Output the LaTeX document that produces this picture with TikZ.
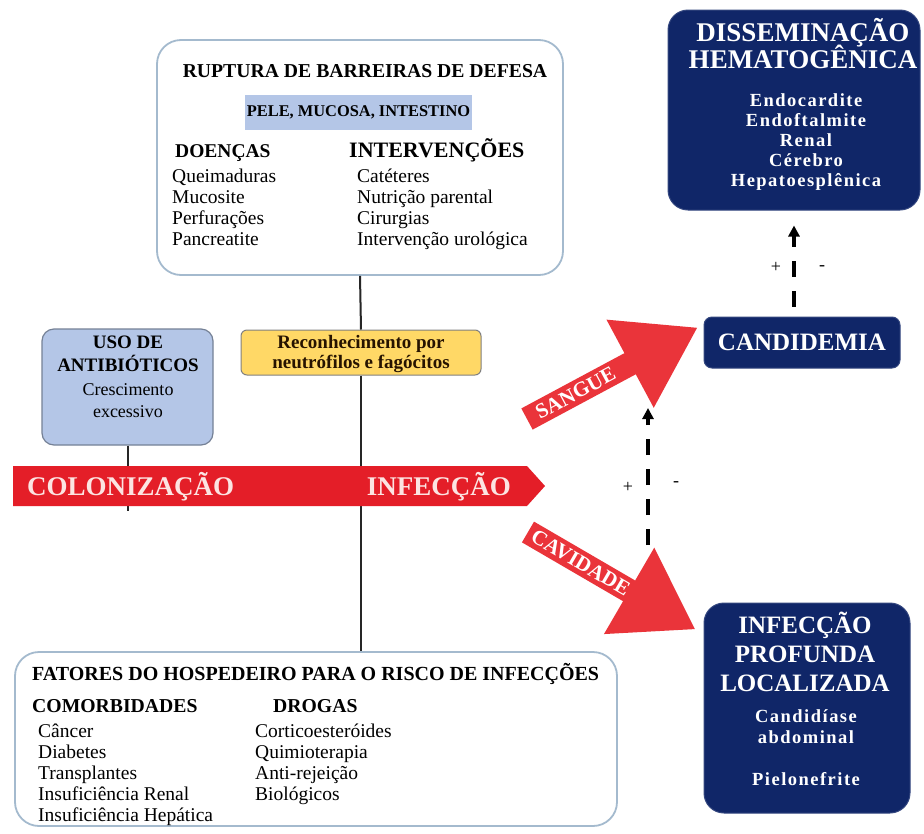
\documentclass[tikz,border=0pt]{standalone}
\usepackage{fontspec}
\setmainfont{Liberation Serif}
\newfontfamily\wideserif[LetterSpace=8]{Liberation Serif}
\usepackage{tikz}
\usetikzlibrary{arrows.meta}
\definecolor{navy}{RGB}{16,38,104}
\definecolor{barred}{RGB}{228,30,40}
\definecolor{routered}{RGB}{234,52,58}
\definecolor{paleblue}{RGB}{180,198,231}
\definecolor{edgeblue}{RGB}{164,186,206}
\definecolor{gold}{RGB}{255,216,102}
\definecolor{barpink}{RGB}{252,228,226}
\newcommand{\tsize}[1]{\fontsize{#1}{#1}\selectfont}
\newcommand{\drawRoute}[3]{
\fill [routered,shift={(#1,#2)},rotate=#3] (0,-12) -- (117,-12) -- (117,-50) -- (193,0) -- (117,50) -- (117,12) -- (0,12) -- cycle;
}

\begin{document}
\begin{tikzpicture}[x=1pt,y=1pt,
  txt/.style={inner sep=0pt},
  framebox/.style={draw=edgeblue,line width=1.8pt,rounded corners=24pt,inner sep=0pt},
  darkbox/.style={fill=navy,draw=navy!85,line width=1pt,rounded corners=20pt,inner sep=0pt,text=white},
  stem/.style={line width=2pt,black!85},
  dashup/.style={-{Triangle[length=11pt,width=11pt]},line width=3.5pt,dash pattern=on 16pt off 14pt}]
\useasboundingbox (0,0) rectangle (924,-833);
\fill [white] (0,0) rectangle (924,-833);
%
\node [framebox,minimum width=406pt,minimum height=235pt] (ruptura) at (360,-157.5) {};
\node [fill=gold,draw=black!50,line width=1pt,rounded corners=6pt,minimum width=240pt,minimum height=45pt] (reconhecimento) at (361,-352.5) {};
\node [fill=paleblue,draw=black!35!paleblue,line width=1.2pt,rounded corners=12pt,minimum width=171pt,minimum height=116pt] (antibioticos) at (127.5,-387) {};
\node [framebox,minimum width=602pt,minimum height=174pt] (fatores) at (316,-739) {};
\coordinate (tick) at (0,-511);
%
\draw [stem] (ruptura.south) -- (reconhecimento.north);
\draw [stem] (reconhecimento.south) -- (reconhecimento.south |- fatores.north);
\draw [stem] (antibioticos.south) -- (antibioticos.south |- tick);
%
\fill [barred] (13,-466) -- (527,-466) -- (545,-486) -- (527,-506) -- (13,-506) -- cycle;
\node [txt,anchor=base west,text=barpink] (colonizacao) at (27,-495) {\tsize{27}\bfseries COLONIZAÇÃO};
\node [txt,anchor=base east,text=barpink] (infeccao) at (511,-495) {\tsize{27}\bfseries INFECÇÃO};
%
\node [txt,anchor=base] at (365,-77) {\tsize{19.7}\bfseries RUPTURA DE BARREIRAS DE DEFESA};
\node [fill=paleblue,minimum width=227pt,minimum height=35pt,inner sep=0pt] (barreiras) at (358.5,-112.5) {\tsize{16.4}\bfseries PELE, MUCOSA, INTESTINO};
\node [txt,anchor=base west] at (175,-157) {\tsize{19.5}\bfseries DOENÇAS};
\node [txt,anchor=base west] at (349,-157) {\tsize{22}\bfseries INTERVENÇÕES};
\node [txt,anchor=base west] at (172,-182) {\tsize{19.5}Queimaduras};
\node [txt,anchor=base west] at (172,-203) {\tsize{19.5}Mucosite};
\node [txt,anchor=base west] at (172,-224) {\tsize{19.5}Perfurações};
\node [txt,anchor=base west] at (172,-245) {\tsize{19.5}Pancreatite};
\node [txt,anchor=base west] at (357,-182) {\tsize{19.5}Catéteres};
\node [txt,anchor=base west] at (357,-203) {\tsize{19.5}Nutrição parental};
\node [txt,anchor=base west] at (357,-224) {\tsize{19.5}Cirurgias};
\node [txt,anchor=base west] at (357,-245) {\tsize{19.5}Intervenção urológica};
%
\node [txt,anchor=base,text=black!85!orange] at (361,-348) {\tsize{19}\bfseries Reconhecimento por};
\node [txt,anchor=base,text=black!85!orange] at (361,-368) {\tsize{19}\bfseries neutrófilos e fagócitos};
%
\node [txt,anchor=base] at (128,-348) {\tsize{19}\bfseries USO DE};
\node [txt,anchor=base] at (128,-371) {\tsize{19}\bfseries ANTIBIÓTICOS};
\node [txt,anchor=base] at (128,-395) {\tsize{18}Crescimento};
\node [txt,anchor=base] at (128,-417) {\tsize{18}excessivo};
%
\node [txt,anchor=base west] at (32,-680) {\tsize{20}\bfseries FATORES DO HOSPEDEIRO PARA O RISCO DE INFECÇÕES};
\node [txt,anchor=base west] at (32,-712) {\tsize{19.7}\bfseries COMORBIDADES};
\node [txt,anchor=base west] at (273,-712) {\tsize{19.7}\bfseries DROGAS};
\node [txt,anchor=base west] at (38,-737) {\tsize{19.5}Câncer};
\node [txt,anchor=base west] at (38,-758) {\tsize{19.5}Diabetes};
\node [txt,anchor=base west] at (38,-779) {\tsize{19.5}Transplantes};
\node [txt,anchor=base west] at (38,-800) {\tsize{19.5}Insuficiência Renal};
\node [txt,anchor=base west] at (38,-821) {\tsize{19.5}Insuficiência Hepática};
\node [txt,anchor=base west] at (255,-737) {\tsize{19.5}Corticoesteróides};
\node [txt,anchor=base west] at (255,-758) {\tsize{19.5}Quimioterapia};
\node [txt,anchor=base west] at (255,-779) {\tsize{19.5}Anti-rejeição};
\node [txt,anchor=base west] at (255,-800) {\tsize{19.5}Biológicos};
%
\node [darkbox,minimum width=252pt,minimum height=200pt] (dissem) at (794,-110) {};
\node [txt,anchor=base,text=white] at (803,-41) {\tsize{27}\bfseries DISSEMINAÇÃO};
\node [txt,anchor=base,text=white] at (803,-68) {\tsize{27}\bfseries HEMATOGÊNICA};
\node [txt,anchor=base,text=white] at (806,-106) {\tsize{18.5}\wideserif\bfseries Endocardite};
\node [txt,anchor=base,text=white] at (806,-126) {\tsize{18.5}\wideserif\bfseries Endoftalmite};
\node [txt,anchor=base,text=white] at (806,-146) {\tsize{18.5}\wideserif\bfseries Renal};
\node [txt,anchor=base,text=white] at (806,-166) {\tsize{18.5}\wideserif\bfseries Cérebro};
\node [txt,anchor=base,text=white] at (806,-186) {\tsize{18.5}\wideserif\bfseries Hepatoesplênica};
%
\node [darkbox,rounded corners=8pt,minimum width=196pt,minimum height=51pt] (candidemia) at (802,-342.5) {\tsize{25}\bfseries CANDIDEMIA};
%
\node [darkbox,minimum width=206pt,minimum height=210pt] (profunda) at (807,-708) {};
\node [txt,anchor=base,text=white] at (805,-633) {\tsize{25}\bfseries INFECÇÃO};
\node [txt,anchor=base,text=white] at (805,-662) {\tsize{25}\bfseries PROFUNDA};
\node [txt,anchor=base,text=white] at (805,-691) {\tsize{25}\bfseries LOCALIZADA};
\node [txt,anchor=base,text=white] at (806,-722) {\tsize{18.5}\wideserif\bfseries Candidíase};
\node [txt,anchor=base,text=white] at (806,-743) {\tsize{18.5}\wideserif\bfseries abdominal};
\node [txt,anchor=base,text=white] at (806,-785) {\tsize{18.5}\wideserif\bfseries Pielonefrite};
%
\drawRoute{527}{-419}{28.2};
\node [txt,rotate=28.2,text=white] (sangue) at (575.5,-393) {\tsize{21}\bfseries SANGUE};
\drawRoute{528}{-532}{-30.2};
\node [txt,rotate=-30.2,text=white] (cavidade) at (580.7,-562.7) {\tsize{21}\bfseries CAVIDADE};
%
\draw [dashup,shorten <=10pt,shorten >=15pt] (candidemia.north -| dissem.south) -- (dissem.south);
\node [txt] at (776,-267) {\tsize{18}+};
\node [txt] at (822,-268) {\tsize{18}-};
\coordinate (cavidadetip) at (648,-545);
\coordinate (sanguetip) at (648,-408);
\draw [dashup] (cavidadetip) -- (sanguetip);
\node [txt] at (628,-487) {\tsize{18}+};
\node [txt] at (676,-484) {\tsize{18}-};
\end{tikzpicture}
\end{document}
